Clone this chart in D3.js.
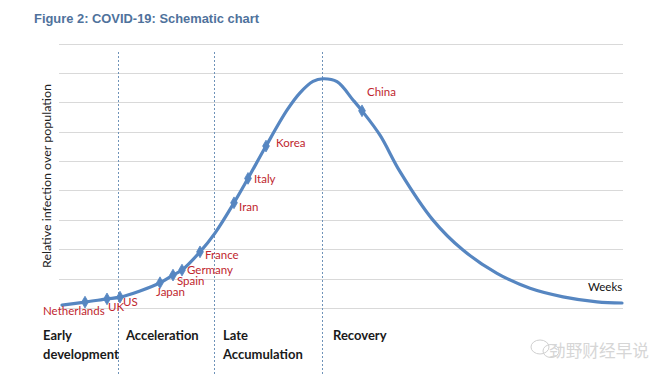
<!DOCTYPE html>
<html>
<head>
<meta charset="utf-8">
<script src="https://cdn.jsdelivr.net/npm/d3@7"></script>
<style>
  html, body { margin: 0; padding: 0; background: #ffffff; }
  svg { display: block; }
</style>
</head>
<body>
<svg id="chart" width="661" height="376"></svg>
<script>
// ---- data ----
const title = "Figure 2: COVID-19: Schematic chart";
const yAxisLabel = "Relative infection over population";
const xAxisLabel = "Weeks";

// schematic infection curve (weeks, relative value)
const weeks  = [0, 2.3, 4.5, 5.8, 7.8, 9.8, 11.1, 12.0, 13.8, 15.3, 17.2, 18.6, 20.4, 22.5, 23.8, 25.1, 26.1, 27.5, 29.1, 30.0, 31.8, 33.8, 37.1, 40.1, 43.5, 46.8, 50.1, 53.5, 56.0];
const values = [0.10, 0.20, 0.31, 0.37, 0.58, 0.86, 1.12, 1.29, 1.91, 2.55, 3.58, 4.41, 5.51, 6.73, 7.32, 7.71, 7.80, 7.70, 7.08, 6.71, 5.88, 4.64, 2.99, 1.97, 1.18, 0.67, 0.38, 0.21, 0.17];

// countries placed on the curve
const countries     = ["Netherlands", "UK", "US", "Japan", "Spain", "Germany", "France", "Iran", "Italy", "Korea", "China"];
const countryWeeks  = [2.3, 4.5, 5.8, 9.8, 11.1, 12.0, 13.8, 17.2, 18.6, 20.4, 30.0];
const countryValues = [0.20, 0.31, 0.37, 0.86, 1.12, 1.29, 1.91, 3.58, 4.41, 5.51, 6.71];

// phases
const phaseBoundaries = [5.55, 15.2, 26.0];
const phaseNames = [["Early", "development"], ["Acceleration"], ["Late", "Accumulation"], ["Recovery"]];
const gridTicks = [0, 1, 2, 3, 4, 5, 6, 7, 8, 9];

// ---- layout / style ----
const labelOffsets = {
  "Netherlands": [-42, 13], "UK": [1, 12], "US": [3, 9], "Japan": [-4, 13],
  "Spain": [4, 10], "Germany": [5, 4], "France": [5, 7], "Iran": [5, 8],
  "Italy": [6, 5], "Korea": [10, 1], "China": [5, -15]
};
const phaseLabelX = [43, 126, 223, 333];
const blue = "#5686c1";
const red = "#c0262e";

const svg = d3.select("#chart");
const x = d3.scaleLinear().domain([0, 56]).range([62, 622]);
const y = d3.scaleLinear().domain([0, 9]).range([308, 43.5]);

// title
svg.append("text")
  .attr("x", 34).attr("y", 23)
  .attr("font-family", "Liberation Sans, Arial, sans-serif")
  .attr("font-size", 13).attr("font-weight", "bold")
  .attr("fill", "#4f729c")
  .attr("textLength", 225).attr("lengthAdjust", "spacingAndGlyphs")
  .text(title);

// gridlines
svg.append("g").selectAll("line").data(gridTicks).join("line")
  .attr("x1", x.range()[0] - 3).attr("x2", x.range()[1] + 1)
  .attr("y1", d => Math.round(y(d)) + 0.5).attr("y2", d => Math.round(y(d)) + 0.5)
  .attr("stroke", "#d9d9d9").attr("stroke-width", 1);

// phase boundaries
svg.append("g").selectAll("line").data(phaseBoundaries).join("line")
  .attr("x1", d => Math.round(x(d)) + 0.5).attr("x2", d => Math.round(x(d)) + 0.5)
  .attr("y1", 52).attr("y2", 376)
  .attr("stroke", "#6f93b9").attr("stroke-width", 1)
  .attr("stroke-dasharray", "2,2");

// y-axis label
svg.append("text")
  .attr("transform", "translate(51,176) rotate(-90)")
  .attr("text-anchor", "middle")
  .attr("font-family", "Lato, Liberation Sans, sans-serif")
  .attr("font-size", 11.5).attr("fill", "#222")
  .attr("textLength", 184).attr("lengthAdjust", "spacingAndGlyphs")
  .text(yAxisLabel);

// curve
const pts = weeks.map((w, i) => [w, values[i]]);
const line = d3.line().x(d => x(d[0])).y(d => y(d[1])).curve(d3.curveCatmullRom.alpha(0.5));
svg.append("path").datum(pts)
  .attr("d", line).attr("fill", "none")
  .attr("stroke", blue).attr("stroke-width", 3.2)
  .attr("stroke-linejoin", "round").attr("stroke-linecap", "round");

// markers
const diamond = d3.symbol().type(d3.symbolDiamond).size(40);
svg.append("g").selectAll("path").data(countries).join("path")
  .attr("d", diamond)
  .attr("transform", (c, i) => `translate(${x(countryWeeks[i])},${y(countryValues[i])})`)
  .attr("fill", blue).attr("stroke", blue).attr("stroke-width", 0.8);

// country labels
svg.append("g").selectAll("text").data(countries).join("text")
  .attr("x", (c, i) => x(countryWeeks[i]) + labelOffsets[c][0])
  .attr("y", (c, i) => y(countryValues[i]) + labelOffsets[c][1])
  .attr("font-family", "Lato, Liberation Sans, sans-serif")
  .attr("font-size", 11.5).attr("fill", red)
  .text(c => c);

// Weeks label
svg.append("text")
  .attr("x", 588).attr("y", 291)
  .attr("font-family", "Lato, Liberation Sans, sans-serif")
  .attr("font-size", 11.5).attr("fill", "#111")
  .text(xAxisLabel);

// phase labels
const pg = svg.append("g")
  .attr("font-family", "Lato, Liberation Sans, sans-serif")
  .attr("font-size", 13).attr("font-weight", "bold").attr("fill", "#1a1a1a");
phaseNames.forEach((lines, i) => {
  lines.forEach((t, j) => {
    pg.append("text")
      .attr("x", phaseLabelX[i])
      .attr("y", 340 + j * 19)
      .text(t);
  });
});

// watermark
const wm = svg.append("g").attr("opacity", 0.55);
wm.append("ellipse").attr("cx", 540).attr("cy", 347).attr("rx", 9).attr("ry", 7)
  .attr("fill", "none").attr("stroke", "#aaa").attr("stroke-width", 1);
wm.append("ellipse").attr("cx", 551).attr("cy", 351).attr("rx", 8).attr("ry", 6.5)
  .attr("fill", "none").attr("stroke", "#aaa").attr("stroke-width", 1);
wm.append("text").attr("x", 549).attr("y", 357)
  .attr("font-family", "Noto Sans CJK SC, sans-serif")
  .attr("font-size", 16.5).attr("fill", "#b5b5b5")
  .attr("textLength", 100).attr("lengthAdjust", "spacingAndGlyphs")
  .text("劲野财经早说");
</script>
</body>
</html>
